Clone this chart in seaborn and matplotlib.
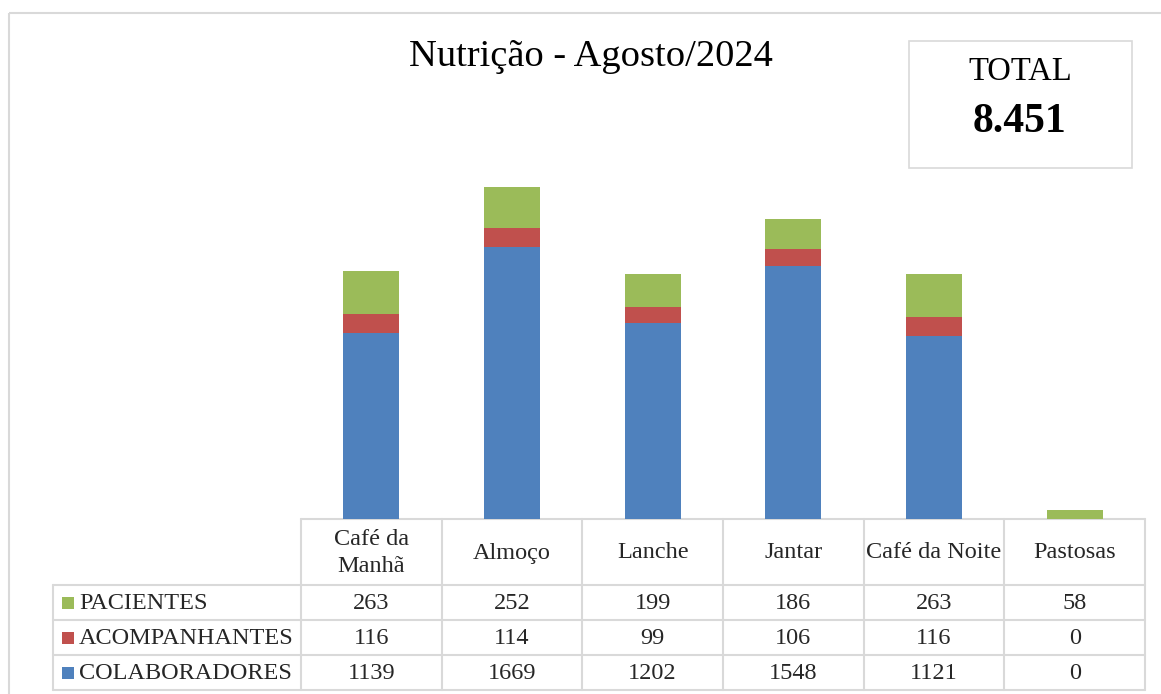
import matplotlib
matplotlib.use("Agg")
import matplotlib.pyplot as plt
import seaborn as sns
import pandas as pd
import numpy as np
from matplotlib.patches import Rectangle
from matplotlib.lines import Line2D

categories = ["Café da\nManhã", "Almoço", "Lanche", "Jantar", "Café da Noite", "Pastosas"]
colaboradores = [1139, 1669, 1202, 1548, 1121, 0]
acompanhantes = [116, 114, 99, 106, 116, 0]
pacientes = [263, 252, 199, 186, 263, 58]
series_names = ["PACIENTES", "ACOMPANHANTES", "COLABORADORES"]
series_colors = ["#9BBB59", "#C0504D", "#4F81BD"]
title = "Nutrição - Agosto/2024"
total_label = "TOTAL"
total_value = "8.451"

sns.set_theme(style="white")
plt.rcParams['font.family'] = ['Liberation Serif', 'DejaVu Serif']

W, H = 1161, 694
fig = plt.figure(figsize=(W / 100, H / 100), dpi=100)
fig.patch.set_facecolor("white")

# overlay axes in pixel coordinates for frame/table/text
ov = fig.add_axes([0, 0, 1, 1], zorder=0)
ov.set_xlim(0, W)
ov.set_ylim(H, 0)
ov.axis("off")

# main bar axes
x0, x1 = 301, 1145
ybase, ytop = 519, 60
ax = fig.add_axes([x0 / W, (H - ybase) / H, (x1 - x0) / W, (ybase - ytop) / H], zorder=2)
ax.patch.set_alpha(0)

df = pd.DataFrame({
    "cat": categories,
    "col": colaboradores,
    "acp": acompanhantes,
    "pac": pacientes,
})
df["c1"] = df["col"]
df["c2"] = df["col"] + df["acp"]
df["c3"] = df["c2"] + df["pac"]

for ycol, color in zip(["c3", "c2", "c1"], series_colors):
    sns.barplot(data=df, x="cat", y=ycol, color=color, width=0.4, ax=ax,
                saturation=1, edgecolor="none", linewidth=0)

ax.set_xlim(-0.5, 5.5)
px_per_unit = 332 / 2035.0
ax.set_ylim(0, (ybase - ytop) / px_per_unit)
ax.set_xticks([])
ax.set_yticks([])
ax.set_xlabel("")
ax.set_ylabel("")
for s in ax.spines.values():
    s.set_visible(False)

# outer frame
ov.add_patch(Rectangle((9, 13), 1300, 800, fill=False, edgecolor="#D9D9D9", lw=1.5))

# title
ov.text(591, 57, title, ha="center", va="center", fontsize=27.7, color="black")

# total box
ov.add_patch(Rectangle((909, 41), 223, 127, fill=False, edgecolor="#D9D9D9", lw=1.2))
ov.text(1020, 72, total_label, ha="center", va="center", fontsize=23.5, color="black")
ov.text(1020, 122, total_value, ha="center", va="center", fontsize=30, fontweight="bold", color="black")

# data table
gc = "#D9D9D9"
colw = (x1 - x0) / len(categories)
row_edges = [519, 585, 620, 655, 690]
lbl_x0 = 53
for i in range(len(categories) + 1):
    xx = x0 + i * colw
    ov.add_line(Line2D([xx, xx], [row_edges[0], row_edges[-1]], color=gc, lw=1.5))
ov.add_line(Line2D([x0, x1], [row_edges[0], row_edges[0]], color=gc, lw=1.5))
for r in row_edges[1:]:
    ov.add_line(Line2D([lbl_x0, x1], [r, r], color=gc, lw=1.5))
ov.add_line(Line2D([lbl_x0, lbl_x0], [row_edges[1], row_edges[-1]], color=gc, lw=1.5))

fs = 17.5
for i, c in enumerate(categories):
    ov.text(x0 + (i + 0.5) * colw, (row_edges[0] + row_edges[1]) / 2 + 1, c,
            ha="center", va="center", fontsize=fs, linespacing=1.35)

rows = [pacientes, acompanhantes, colaboradores]
for r, (name, vals, color) in enumerate(zip(series_names, rows, series_colors)):
    yc = (row_edges[r + 1] + row_edges[r + 2]) / 2
    ov.add_patch(Rectangle((62, yc - 6), 12, 12, facecolor=color, edgecolor="none"))
    ov.text(79, yc + 1, name, ha="left", va="center", fontsize=fs)
    for i, v in enumerate(vals):
        ov.text(x0 + (i + 0.5) * colw, yc + 1, str(v), ha="center", va="center", fontsize=fs)

fig.savefig("out.png", dpi=100, facecolor="white")
